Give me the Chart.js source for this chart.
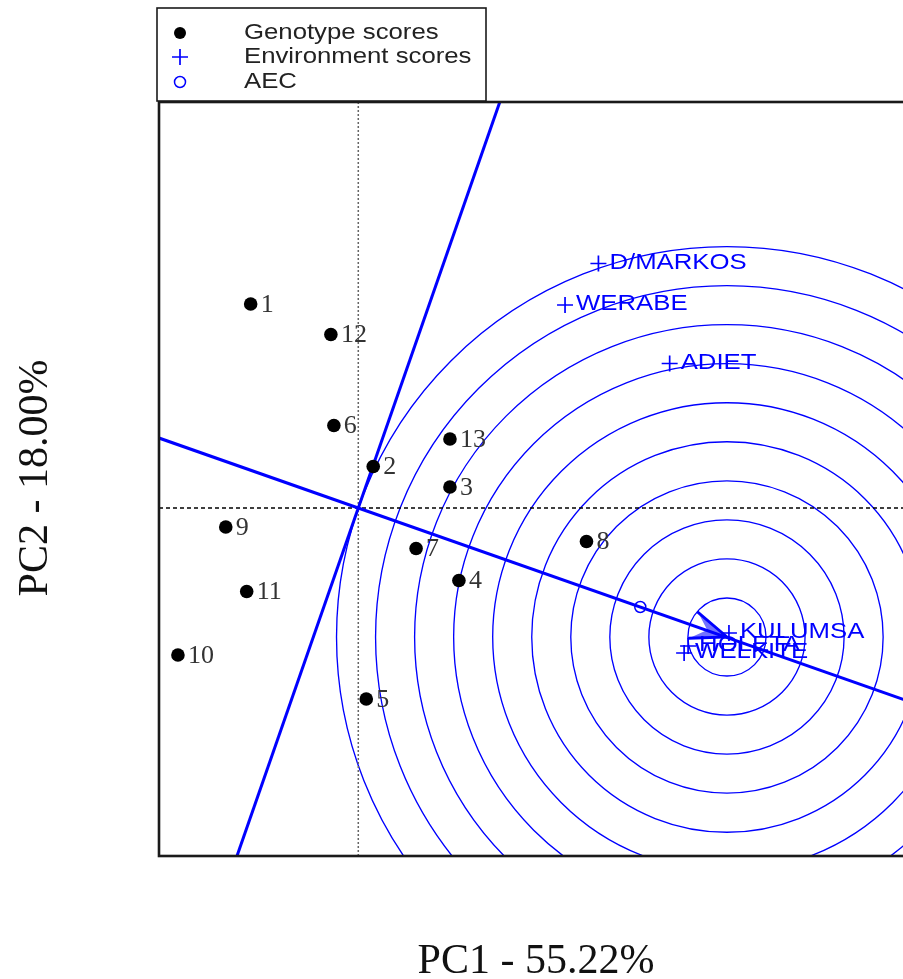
<!DOCTYPE html>
<html>
<head>
<meta charset="utf-8">
<script src="https://cdn.jsdelivr.net/npm/chart.js@4/dist/chart.umd.min.js"></script>
<style>
  html, body { margin: 0; padding: 0; background: #ffffff; overflow: hidden; }
  #wrap { width: 920px; height: 979px; }
</style>
</head>
<body>
<div id="wrap"><canvas id="biplot" width="920" height="979"></canvas></div>
<script>
// GGE biplot: genotype and environment scores on PC1 / PC2, with the
// average-environment coordination (AEC) axis and concentric rings
// around the ideal point.

const genotypeLabels = ['1', '2', '3', '4', '5', '6', '7', '8', '9', '10', '11', '12', '13'];
const genotypePC1 = [-1.08, 0.15, 0.92, 1.01, 0.08, -0.245, 0.58, 2.29, -1.33, -1.81, -1.12, -0.275, 0.92];
const genotypePC2 = [2.04, 0.415, 0.21, -0.725, -1.91, 0.825, -0.405, -0.335, -0.19, -1.47, -0.835, 1.735, 0.69];

const environmentLabels = ['D/MARKOS', 'WERABE', 'ADIET', 'KULUMSA', 'HOLETA', 'WELKITE'];
const environmentPC1 = [2.41, 2.075, 3.125, 3.72, 3.31, 3.27];
const environmentPC2 = [2.445, 2.03, 1.445, -1.25, -1.38, -1.45];

const aecPoint = [2.83, -0.99];      // average environment
const idealPoint = [3.70, -1.29];    // centre of the rings, arrow tip
const ringCount = 10;

const axisRangePC1 = [-2.0, 5.54];
const axisRangePC2 = [-3.48, 4.06];

const axisTitlePC1 = 'PC1 - 55.22%';
const axisTitlePC2 = 'PC2 - 18.00%';
const legendLabels = ['Genotype scores', 'Environment scores', 'AEC'];

const BLUE = '#0000ff';
const SANS = '"Liberation Sans", Arial, sans-serif';
const SERIF = '"Liberation Serif", "Times New Roman", serif';
const SANS_STRETCH = 1.17;

// AEC abscissa through the origin and the average environment,
// and its perpendicular (AEC ordinate).
const aecSlope = aecPoint[1] / aecPoint[0];
const aecLine = [
  { x: axisRangePC1[0], y: aecSlope * axisRangePC1[0] },
  { x: axisRangePC1[1], y: aecSlope * axisRangePC1[1] }
];
const aecPerp = [
  { x: -aecSlope * axisRangePC2[0], y: axisRangePC2[0] },
  { x: -aecSlope * axisRangePC2[1], y: axisRangePC2[1] }
];

const genotypePoints = genotypePC1.map((x, i) => ({ x, y: genotypePC2[i] }));
const environmentPoints = environmentPC1.map((x, i) => ({ x, y: environmentPC2[i] }));

function stretchedText(ctx, text, x, y, sx) {
  ctx.save();
  ctx.translate(x, y);
  ctx.scale(sx, 1);
  ctx.fillText(text, 0, 0);
  ctx.restore();
}

const underlayPlugin = {
  id: 'underlay',
  beforeDatasetsDraw(chart) {
    const { ctx, chartArea: a, scales: { x, y } } = chart;
    ctx.save();
    ctx.beginPath();
    ctx.rect(a.left, a.top, a.right - a.left, a.bottom - a.top);
    ctx.clip();

    // concentric rings around the ideal point
    const cx = x.getPixelForValue(idealPoint[0]);
    const cy = y.getPixelForValue(idealPoint[1]);
    const len = Math.hypot(idealPoint[0], idealPoint[1]);
    const pxPerUnit = x.getPixelForValue(1) - x.getPixelForValue(0);
    ctx.strokeStyle = BLUE;
    ctx.lineWidth = 1.35;
    for (let k = 1; k <= ringCount; k++) {
      ctx.beginPath();
      ctx.arc(cx, cy, k * len / ringCount * pxPerUnit, 0, Math.PI * 2);
      ctx.stroke();
    }

    // origin reference lines
    const ox = x.getPixelForValue(0);
    const oy = y.getPixelForValue(0);
    ctx.strokeStyle = '#666666';
    ctx.lineWidth = 1.5;
    ctx.setLineDash([2, 2]);
    ctx.beginPath();
    ctx.moveTo(ox, a.top);
    ctx.lineTo(ox, a.bottom);
    ctx.stroke();
    ctx.strokeStyle = '#000000';
    ctx.lineWidth = 1.3;
    ctx.setLineDash([4, 3]);
    ctx.beginPath();
    ctx.moveTo(a.left, oy);
    ctx.lineTo(a.right, oy);
    ctx.stroke();
    ctx.restore();
  },
  afterDatasetsDraw(chart) {
    const { ctx, scales: { x, y } } = chart;
    ctx.save();

    // arrow head at the ideal point, pointing along the AEC
    const tx = x.getPixelForValue(idealPoint[0]);
    const ty = y.getPixelForValue(idealPoint[1]);
    const ang = Math.atan2(ty - y.getPixelForValue(0), tx - x.getPixelForValue(0));
    const hl = 38, spread = Math.PI / 8.5;
    const bx1 = tx - hl * Math.cos(ang - spread), by1 = ty - hl * Math.sin(ang - spread);
    const bx2 = tx - hl * Math.cos(ang + spread), by2 = ty - hl * Math.sin(ang + spread);
    ctx.fillStyle = 'rgba(0,0,255,0.55)';
    ctx.beginPath();
    ctx.moveTo(bx1, by1);
    ctx.lineTo(tx, ty);
    ctx.lineTo(bx2, by2);
    ctx.lineTo(tx - hl * 0.55 * Math.cos(ang), ty - hl * 0.55 * Math.sin(ang));
    ctx.closePath();
    ctx.fill();
    ctx.strokeStyle = BLUE;
    ctx.lineWidth = 2.8;
    ctx.lineCap = 'round';
    ctx.beginPath();
    ctx.moveTo(bx1, by1);
    ctx.lineTo(tx, ty);
    ctx.lineTo(bx2, by2);
    ctx.stroke();

    // genotype labels
    ctx.fillStyle = '#333333';
    ctx.font = '26px ' + SERIF;
    ctx.textBaseline = 'middle';
    ctx.textAlign = 'left';
    genotypePoints.forEach((p, i) => {
      ctx.fillText(genotypeLabels[i], x.getPixelForValue(p.x) + 10, y.getPixelForValue(p.y) + 1);
    });

    // environment labels
    ctx.fillStyle = BLUE;
    ctx.font = '22px ' + SANS;
    environmentPoints.forEach((p, i) => {
      stretchedText(ctx, environmentLabels[i], x.getPixelForValue(p.x) + 11,
        y.getPixelForValue(p.y) - 1, SANS_STRETCH);
    });
    ctx.restore();
  },
  afterDraw(chart) {
    const { ctx, chartArea: a } = chart;
    ctx.save();

    // plot frame
    ctx.strokeStyle = '#1a1a1a';
    ctx.lineWidth = 2.6;
    ctx.strokeRect(a.left, a.top, a.right - a.left, a.bottom - a.top);

    // axis titles
    ctx.fillStyle = '#111111';
    ctx.font = '42px ' + SERIF;
    ctx.textAlign = 'center';
    ctx.textBaseline = 'alphabetic';
    ctx.fillText(axisTitlePC1, 536, 973);
    ctx.save();
    ctx.translate(47, 478);
    ctx.rotate(-Math.PI / 2);
    ctx.fillText(axisTitlePC2, 0, 0);
    ctx.restore();

    // legend box
    const lx = 157, ly = 8, lw = 329, lh = 93;
    ctx.fillStyle = '#ffffff';
    ctx.fillRect(lx, ly, lw, lh);
    ctx.strokeStyle = '#1a1a1a';
    ctx.lineWidth = 1.6;
    ctx.strokeRect(lx, ly, lw, lh);

    const rows = [33, 57, 82];
    const sx = 180;
    ctx.fillStyle = '#000000';
    ctx.beginPath();
    ctx.arc(sx, rows[0], 6, 0, Math.PI * 2);
    ctx.fill();
    ctx.strokeStyle = BLUE;
    ctx.lineWidth = 1.7;
    ctx.beginPath();
    ctx.moveTo(sx - 8, rows[1]); ctx.lineTo(sx + 8, rows[1]);
    ctx.moveTo(sx, rows[1] - 8); ctx.lineTo(sx, rows[1] + 8);
    ctx.stroke();
    ctx.lineWidth = 1.5;
    ctx.beginPath();
    ctx.arc(sx, rows[2], 5.5, 0, Math.PI * 2);
    ctx.stroke();

    ctx.fillStyle = '#222222';
    ctx.font = '22px ' + SANS;
    ctx.textAlign = 'left';
    ctx.textBaseline = 'middle';
    legendLabels.forEach((t, i) => stretchedText(ctx, t, 244, rows[i], SANS_STRETCH));
    ctx.restore();
  }
};

new Chart(document.getElementById('biplot'), {
  type: 'scatter',
  data: {
    datasets: [
      {
        label: 'Genotype scores',
        data: genotypePoints,
        pointStyle: 'circle',
        pointRadius: 6.8,
        pointBackgroundColor: '#000000',
        pointBorderWidth: 0,
        order: 0
      },
      {
        label: 'Environment scores',
        data: environmentPoints,
        pointStyle: 'cross',
        pointRadius: 8,
        pointBorderColor: BLUE,
        pointBorderWidth: 1.7,
        order: 1
      },
      {
        label: 'AEC',
        data: [{ x: aecPoint[0], y: aecPoint[1] }],
        pointStyle: 'circle',
        pointRadius: 5.5,
        pointBackgroundColor: 'rgba(0,0,0,0)',
        pointBorderColor: BLUE,
        pointBorderWidth: 1.5,
        order: 2
      },
      {
        label: 'AEC abscissa',
        data: aecLine,
        showLine: true,
        borderColor: BLUE,
        borderWidth: 3,
        pointRadius: 0,
        order: 3
      },
      {
        label: 'AEC ordinate',
        data: aecPerp,
        showLine: true,
        borderColor: BLUE,
        borderWidth: 3,
        pointRadius: 0,
        order: 3
      }
    ]
  },
  options: {
    responsive: false,
    animation: false,
    devicePixelRatio: 1,
    layout: { padding: { left: 159, top: 102, right: 7, bottom: 123 } },
    scales: {
      x: { type: 'linear', min: axisRangePC1[0], max: axisRangePC1[1], display: false },
      y: { type: 'linear', min: axisRangePC2[0], max: axisRangePC2[1], display: false }
    },
    plugins: {
      legend: { display: false },
      tooltip: { enabled: false },
      title: { display: false }
    }
  },
  plugins: [underlayPlugin]
});
</script>
</body>
</html>
